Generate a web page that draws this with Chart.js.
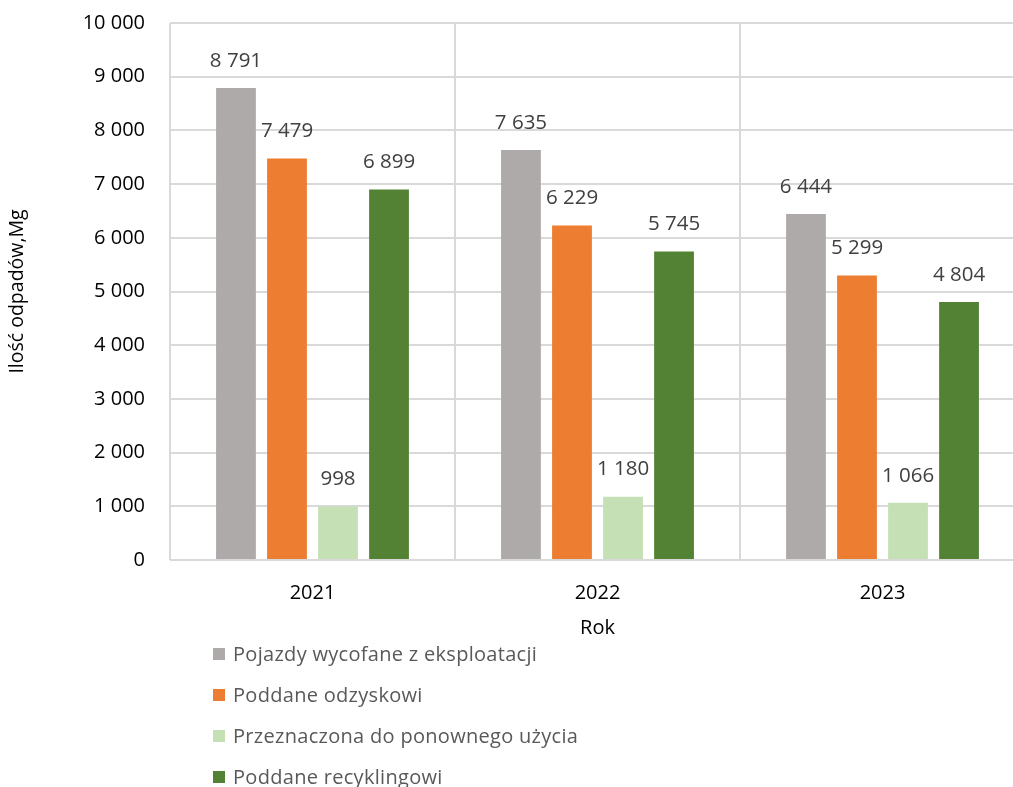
<!DOCTYPE html>
<html>
<head>
<meta charset="utf-8">
<script src="https://cdn.jsdelivr.net/npm/chart.js@4.4.1/dist/chart.umd.min.js"></script>
<style>
  html, body { margin: 0; padding: 0; overflow: hidden; background: #fff; }
  #wrap { position: relative; width: 1040px; height: 787px; }
  #legend { position: absolute; left: 213px; top: 633px; font-family: "Open Sans", sans-serif; font-size: 20px; letter-spacing: 0.3px; color: #595959; }
  #legend div { height: 41px; display: flex; align-items: center; white-space: nowrap; }
  #legend span.box { display: inline-block; width: 12px; height: 12px; margin-right: 8px; }
</style>
</head>
<body>
<div id="wrap">
  <canvas id="chart" width="1040" height="787"></canvas>
  <div id="legend"></div>
</div>
<script>
// dane z wykresu
const years = ['2021', '2022', '2023']
const pojazdy = [8791, 7635, 6444]
const odzysk = [7479, 6229, 5299]
const ponowne = [998, 1180, 1066]
const recykling = [6899, 5745, 4804]
const yTicks = [0, 1000, 2000, 3000, 4000, 5000, 6000, 7000, 8000, 9000, 10000]

const names = ['Pojazdy wycofane z eksploatacji', 'Poddane odzyskowi', 'Przeznaczona do ponownego użycia', 'Poddane recyklingowi']
const colors = ['#AEAAAA', '#ED7D31', '#C5E0B4', '#548235']

function fmt(v) {
    return String(v).replace(/\B(?=(\d{3})+(?!\d))/g, ' ')
}

const valueLabels = {
    id: 'valueLabels',
    afterDatasetsDraw(chart) {
        const ctx = chart.ctx
        ctx.save()
        ctx.font = '20.5px "Open Sans", sans-serif'
        ctx.fillStyle = '#404040'
        ctx.textAlign = 'center'
        ctx.textBaseline = 'middle'
        chart.data.datasets.forEach((ds, i) => {
            chart.getDatasetMeta(i).data.forEach((bar, j) => {
                ctx.fillText(fmt(ds.data[j]), bar.x, bar.y - 27)
            })
        })
        ctx.restore()
    }
}

const series = [pojazdy, odzysk, ponowne, recykling]

const chart = new Chart(document.getElementById('chart'), {
    type: 'bar',
    data: {
        labels: years,
        datasets: series.map((d, i) => ({
            label: names[i],
            data: d,
            backgroundColor: colors[i],
            categoryPercentage: 0.716,
            barPercentage: 0.78
        }))
    },
    options: {
        responsive: false,
        animation: false,
        layout: { padding: { left: 0, top: 23, right: 15, bottom: 147 } },
        plugins: {
            legend: { display: false },
            tooltip: { enabled: false }
        },
        scales: {
            x: {
                grid: { color: '#d9d9d9', lineWidth: 2, drawTicks: false, offset: true },
                border: { display: false },
                ticks: { color: '#000', padding: 21, font: { family: 'Open Sans', size: 20 } },
                title: { display: true, text: 'Rok', color: '#000', padding: 0, font: { family: 'Open Sans', size: 20 } },
                afterFit: s => { s.height = 80; s.paddingLeft = 0; s.paddingRight = 0 }
            },
            y: {
                min: 0,
                max: 10000,
                afterBuildTicks: s => { s.ticks = yTicks.map(v => ({ value: v })) },
                grid: { color: '#d9d9d9', lineWidth: 2, drawTicks: false },
                border: { display: false },
                ticks: { color: '#000', padding: 25, font: { family: 'Open Sans', size: 20 }, callback: v => fmt(v) },
                title: { display: true, text: 'Ilość odpadów,Mg', color: '#000', padding: 6, font: { family: 'Open Sans', size: 19.5 } },
                afterFit: s => { s.width = 170; s.paddingTop = 0; s.paddingBottom = 0 }
            }
        }
    },
    plugins: [valueLabels]
})

const legend = document.getElementById('legend')
chart.data.datasets.forEach(ds => {
    const row = document.createElement('div')
    const box = document.createElement('span')
    box.className = 'box'
    box.style.background = ds.backgroundColor
    row.appendChild(box)
    row.appendChild(document.createTextNode(ds.label))
    legend.appendChild(row)
})
</script>
</body>
</html>
